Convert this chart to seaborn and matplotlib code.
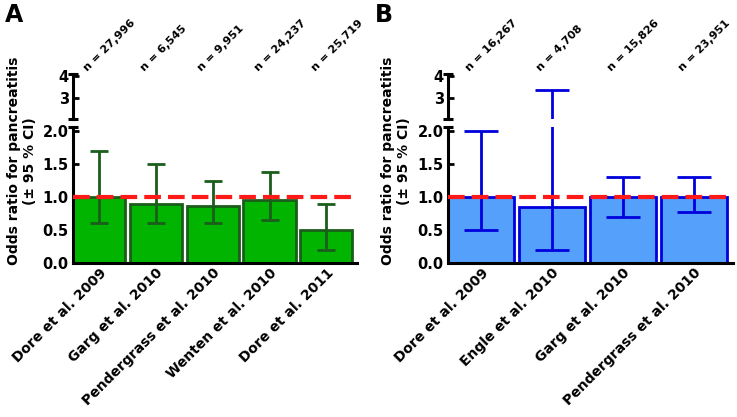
import numpy as np
import pandas as pd
import matplotlib
matplotlib.use("Agg")
import matplotlib.pyplot as plt
import matplotlib.transforms as mtransforms
import seaborn as sns

# ---- data ----
studies_a = ["Dore et al. 2009", "Garg et al. 2010", "Pendergrass et al. 2010",
             "Wenten et al. 2010", "Dore et al. 2011"]
or_a = [1.0, 0.9, 0.86, 0.95, 0.5]
lo_a = [0.6, 0.6, 0.6, 0.65, 0.2]
hi_a = [1.7, 1.5, 1.24, 1.38, 0.9]
n_a = ["n = 27,996", "n = 6,545", "n = 9,951", "n = 24,237", "n = 25,719"]

studies_b = ["Dore et al. 2009", "Engle et al. 2010", "Garg et al. 2010",
             "Pendergrass et al. 2010"]
or_b = [1.0, 0.85, 1.0, 1.0]
lo_b = [0.5, 0.2, 0.7, 0.77]
hi_b = [2.0, 3.35, 1.3, 1.31]
n_b = ["n = 16,267", "n = 4,708", "n = 15,826", "n = 23,951"]

lower_ticks = [0.0, 0.5, 1.0, 1.5, 2.0]
lower_ticklabels = ["0.0", "0.5", "1.0", "1.5", "2.0"]
upper_ticks = [3, 4]
upper_ticklabels = ["3", "4"]
ylabel = "Odds ratio for pancreatitis\n(\u00b1 95 % CI)"

sns.set_style("ticks")
plt.rcParams["font.family"] = ["DejaVu Sans"]
plt.rcParams["font.weight"] = "bold"
for k in ("text.color", "axes.labelcolor", "xtick.color", "ytick.color", "axes.edgecolor"):
    plt.rcParams[k] = "black"

W, H = 737, 417
fig = plt.figure(figsize=(W / 100, H / 100), dpi=100)

UP_LO, UP_HI = 2.05, 4.09


def fr(x0, y_top, x1, y_bot):
    return [x0 / W, 1 - y_bot / H, (x1 - x0) / W, (y_bot - y_top) / H]


def panel(x0, x1, studies, ors, los, his, ns, fill, edge, ecol, capsize, width, xlim):
    ax_lo = fig.add_axes(fr(x0, 127, x1, 263))
    ax_hi = fig.add_axes(fr(x0, 74, x1, 119))
    df = pd.DataFrame({"study": studies, "or": ors})
    sns.barplot(data=df, x="study", y="or", ax=ax_lo, color=fill, width=width,
                edgecolor=edge, linewidth=2, saturation=1, zorder=2)
    xs = np.arange(len(studies))
    ors_ = np.array(ors); los_ = np.array(los); his_ = np.array(his)
    ax_lo.errorbar(xs, ors_, yerr=[ors_ - los_, his_ - ors_], fmt="none",
                   ecolor=ecol, elinewidth=2, capsize=capsize, capthick=2, zorder=3)
    big = his_ > UP_LO + 0.1
    if big.any():
        ax_hi.errorbar(xs[big], ors_[big], yerr=[ors_[big] - los_[big], his_[big] - ors_[big]],
                       fmt="none", ecolor=ecol, elinewidth=2, capsize=capsize,
                       capthick=2, zorder=3)
    for ax in (ax_lo, ax_hi):
        ax.set_xlim(*xlim)
    ax_lo.axhline(1.0, color="#ff1a1a", ls=(0, (4, 1.7)), lw=3, zorder=4)
    ax_lo.set_ylim(0, 2.06)
    ax_hi.set_ylim(UP_LO, UP_HI)
    ax_lo.set_yticks(lower_ticks, lower_ticklabels)
    ax_hi.set_yticks(upper_ticks, upper_ticklabels)
    ax_lo.set_xticks(xs)
    ax_lo.set_xticklabels(studies, rotation=45, ha="right", va="top",
                          rotation_mode="anchor", fontsize=10, fontweight="bold")
    ax_lo.set_xlabel(""); ax_lo.set_ylabel("")
    for ax in (ax_lo, ax_hi):
        ax.patch.set_alpha(0)
        for s in ("top", "right"):
            ax.spines[s].set_visible(False)
        for s in ("left", "bottom"):
            ax.spines[s].set_linewidth(2.2)
        ax.tick_params(axis="y", direction="in", length=4, width=2, pad=3,
                       labelsize=10.5)
        for lab in ax.get_yticklabels():
            lab.set_fontweight("bold")
    ax_hi.spines["bottom"].set_visible(False)
    ax_hi.set_xticks([])
    ax_lo.tick_params(axis="x", direction="in", length=4, width=2, pad=2)
    # break caps
    ax_hi.plot([0, 0], [0, 1], transform=ax_hi.transAxes, ls="none", marker="_",
               ms=7, mew=2.2, color="black", clip_on=False, zorder=5)
    ax_lo.plot([0], [1], transform=ax_lo.transAxes, ls="none", marker="_",
               ms=7, mew=2.2, color="black", clip_on=False, zorder=5)
    # n labels
    tr = mtransforms.offset_copy(ax_hi.get_xaxis_transform(), fig=fig,
                                 x=-7, y=1, units="points")
    for i, t in enumerate(ns):
        ax_hi.text(i, 1.0, t, transform=tr,
                   rotation=45, ha="left", va="bottom", rotation_mode="anchor",
                   fontsize=8, fontweight="bold")
    return ax_lo, ax_hi


panel(73, 357, studies_a, or_a, lo_a, hi_a, n_a, "#00b400", "#1b5e1b", "#1b5e1b",
      6.8, 0.92, (-0.46, 4.54))
panel(448, 733, studies_b, or_b, lo_b, hi_b, n_b, "#55a0fa", "#0000dd", "#0000dd",
      11.9, 0.93, (-0.465, 3.55))

for xl in (22, 396):
    fig.text(xl / W, 1 - 161 / H, ylabel, rotation=90, ha="center", va="center",
             fontsize=10, fontweight="bold", multialignment="center",
             linespacing=1.15)

fig.text(5 / W, 1 - 3 / H, "A", fontsize=17, fontweight="bold", va="top", ha="left")
fig.text(375 / W, 1 - 3 / H, "B", fontsize=17, fontweight="bold", va="top", ha="left")

fig.savefig("out.png", dpi=100)
